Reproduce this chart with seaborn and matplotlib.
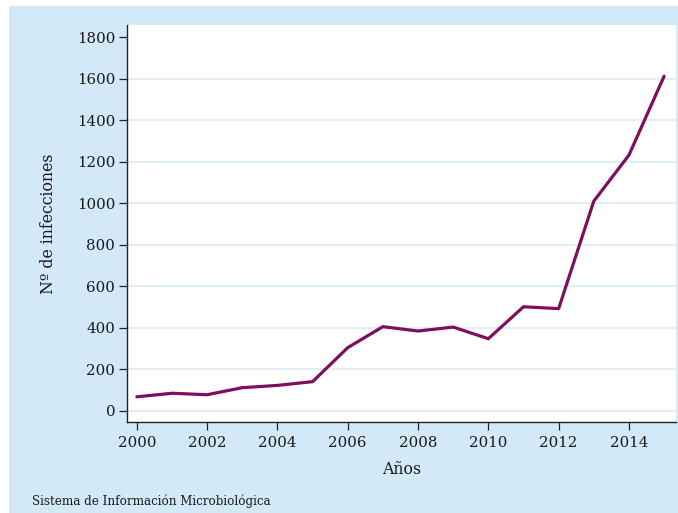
import matplotlib
matplotlib.use("Agg")
import matplotlib.pyplot as plt
from matplotlib.patches import Rectangle
import pandas as pd
import seaborn as sns

# Infecciones por año
years = list(range(2000, 2016))
infections = [67, 84, 77, 111, 122, 140, 304, 405, 384, 403, 347,
              501, 492, 1010, 1232, 1612]
y_ticks = [0, 200, 400, 600, 800, 1000, 1200, 1400, 1600, 1800]
x_ticks = [2000, 2002, 2004, 2006, 2008, 2010, 2012, 2014]

BG = "#d4e9f8"
LINE = "#7e0f5f"
GRID = "#dcebf6"

sns.set_style("white")
plt.rcParams["font.family"] = ["DejaVu Serif"]

df = pd.DataFrame({"year": years, "n": infections})

fig = plt.figure(figsize=(6.78, 5.13), dpi=100)
fig.patch.set_facecolor("white")
fig.patches.append(Rectangle((9 / 678, 0), 1 - 9 / 678, 1 - 6 / 513,
                             transform=fig.transFigure, facecolor=BG,
                             edgecolor="none", zorder=-10))

ax = fig.add_axes([127 / 678, (513 - 421.7) / 513, (675.7 - 127) / 678, (421.7 - 25) / 513])
ax.set_facecolor("white")

sns.lineplot(data=df, x="year", y="n", ax=ax, color=LINE, linewidth=2.3)

ax.set_xlim(1999.72, 2015.33)
ax.set_ylim(-53, 1859)
ax.set_xticks(x_ticks)
ax.set_yticks(y_ticks)
ax.tick_params(axis="both", which="major", direction="out", length=5.5, width=0.9,
               color="#222222", labelsize=10.8, labelcolor="#1a1a1a", pad=3,
               left=True, bottom=True)
ax.tick_params(axis="x", pad=4.5)

ax.grid(axis="y", color=GRID, linewidth=1.2)
ax.yaxis.get_gridlines()[-1].set_visible(False)
ax.set_axisbelow(True)

for side in ["top", "right"]:
    ax.spines[side].set_visible(False)
for side in ["left", "bottom"]:
    ax.spines[side].set_color("#222222")
    ax.spines[side].set_linewidth(1.0)

ax.set_xlabel("Años", fontsize=11.3, color="#1a1a1a", labelpad=8.5)
ax.set_ylabel("Nº de infecciones", fontsize=11.3, color="#1a1a1a", labelpad=14)

fig.text(32 / 678, 1 - 501.5 / 513, "Sistema de Información Microbiológica",
         fontsize=8.6, color="#1a1a1a", va="center", ha="left")

fig.savefig("out.png", dpi=100, facecolor=fig.get_facecolor())
